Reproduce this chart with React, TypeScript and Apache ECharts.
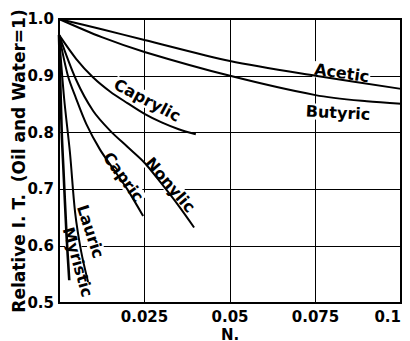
import React, { useEffect, useRef } from "react";
import * as echarts from "echarts";

const FONT = '"DejaVu Sans", "Liberation Sans", sans-serif';

// Tick labels
const xTickLabels = ["", "0.025", "0.05", "0.075", "0.1"];
const yTickLabels = ["0.5", "0.6", "0.7", "0.8", "0.9", "1.0"];

// Curves: [N, relative I.T.]
const acetic = [[0, 1.0], [0.0125, 0.982], [0.025, 0.963], [0.05, 0.926], [0.075, 0.9], [0.1, 0.877]];
const butyric = [[0, 1.0], [0.0125, 0.968], [0.025, 0.942], [0.05, 0.9], [0.075, 0.866], [0.09, 0.855], [0.1, 0.851]];
const caprylic = [[0, 0.972], [0.005, 0.93], [0.01, 0.897], [0.015, 0.872], [0.02, 0.852], [0.025, 0.833], [0.03, 0.818], [0.035, 0.806], [0.04, 0.797]];
const nonylic = [[0, 0.972], [0.005, 0.893], [0.01, 0.838], [0.015, 0.803], [0.02, 0.775], [0.025, 0.747], [0.03, 0.71], [0.035, 0.671], [0.0395, 0.633]];
const capric = [[0, 0.972], [0.0026, 0.9], [0.005, 0.86], [0.008, 0.815], [0.012, 0.77], [0.016, 0.735], [0.02, 0.7], [0.0246, 0.653]];
const lauric = [[0, 0.972], [0.0015, 0.86], [0.0032, 0.765], [0.0047, 0.66], [0.0065, 0.59], [0.0085, 0.537]];
const myristic = [[0, 0.972], [0.0008, 0.8], [0.0013, 0.735], [0.0022, 0.62], [0.003, 0.54]];

const curveNames = ["Acetic", "Butyric", "Caprylic", "Nonylic", "Capric", "Lauric", "Myristic"];
const curveData = [acetic, butyric, caprylic, nonylic, capric, lauric, myristic];

// Label anchors (data coords) and rotation
const labelX = [0.0827, 0.0816, 0.0258, 0.0325, 0.0188, 0.0092, 0.0055];
const labelY = [0.905, 0.835, 0.857, 0.708, 0.722, 0.626, 0.572];
const labelRot = [-8, -3, -28, -49, -54, -72, -74];

export default function App() {
  const ref = useRef<HTMLDivElement>(null);
  useEffect(() => {
    const chart = echarts.init(ref.current!, null, { renderer: "svg" });
    const series = curveData.map((d, i) => ({
      type: "line",
      name: curveNames[i],
      data: d,
      smooth: 0.3,
      showSymbol: false,
      symbol: "none",
      lineStyle: { color: "#000", width: i === 6 ? 2.6 : 2 },
      z: 3,
      markPoint: {
        symbol: "circle",
        symbolSize: 0,
        z: 2,
        data: [{ coord: [labelX[i], labelY[i]], name: curveNames[i] }],
        label: {
          show: true,
          position: "inside",
          formatter: curveNames[i],
          rotate: labelRot[i],
          color: "#000",
          fontFamily: FONT,
          fontWeight: "bold",
          fontSize: 16,
          backgroundColor: "#fff",
          padding: [0, 1],
        },
      },
    }));
    chart.setOption({
      animation: false,
      backgroundColor: "#fff",
      grid: {
        left: 59,
        right: 9,
        top: 19,
        bottom: 38,
        outerBoundsMode: "none",
        containLabel: false,
        show: true,
        borderColor: "#000",
        borderWidth: 2,
      },
      xAxis: {
        type: "value",
        min: 0,
        max: 0.1,
        interval: 0.025,
        name: "N.",
        nameLocation: "middle",
        nameGap: 24,
        nameMoveOverlap: false,
        nameTextStyle: { color: "#000", fontFamily: FONT, fontWeight: "bold", fontSize: 15 },
        axisLine: { show: true, lineStyle: { color: "#000", width: 2 } },
        axisTick: { show: false },
        splitLine: { show: true, lineStyle: { color: "#000", width: 1 } },
        axisLabel: {
          color: "#000",
          fontFamily: FONT,
          fontWeight: "bold",
          fontSize: 15,
          margin: 6,
          alignMaxLabel: "right",
          formatter: (v: number) => xTickLabels[Math.round(v / 0.025)] ?? "",
        },
      },
      yAxis: {
        type: "value",
        min: 0.5,
        max: 1.0,
        interval: 0.1,
        name: "Relative I. T.  (Oil and Water=1)",
        nameLocation: "middle",
        nameRotate: 90,
        nameGap: 32,
        nameMoveOverlap: false,
        nameTextStyle: { color: "#000", fontFamily: FONT, fontWeight: "bold", fontSize: 17 },
        axisLine: { show: true, lineStyle: { color: "#000", width: 2 } },
        axisTick: { show: false },
        splitLine: { show: true, lineStyle: { color: "#000", width: 1 } },
        axisLabel: {
          color: "#000",
          fontFamily: FONT,
          fontWeight: "bold",
          fontSize: 15,
          margin: 5,
          formatter: (v: number) => yTickLabels[Math.round((v - 0.5) / 0.1)] ?? "",
        },
      },
      series,
    });
    return () => chart.dispose();
  }, []);
  return (
    <div
      ref={ref}
      style={{ position: "fixed", left: 0, top: 0, width: 410, height: 341, background: "#fff" }}
    />
  );
}
